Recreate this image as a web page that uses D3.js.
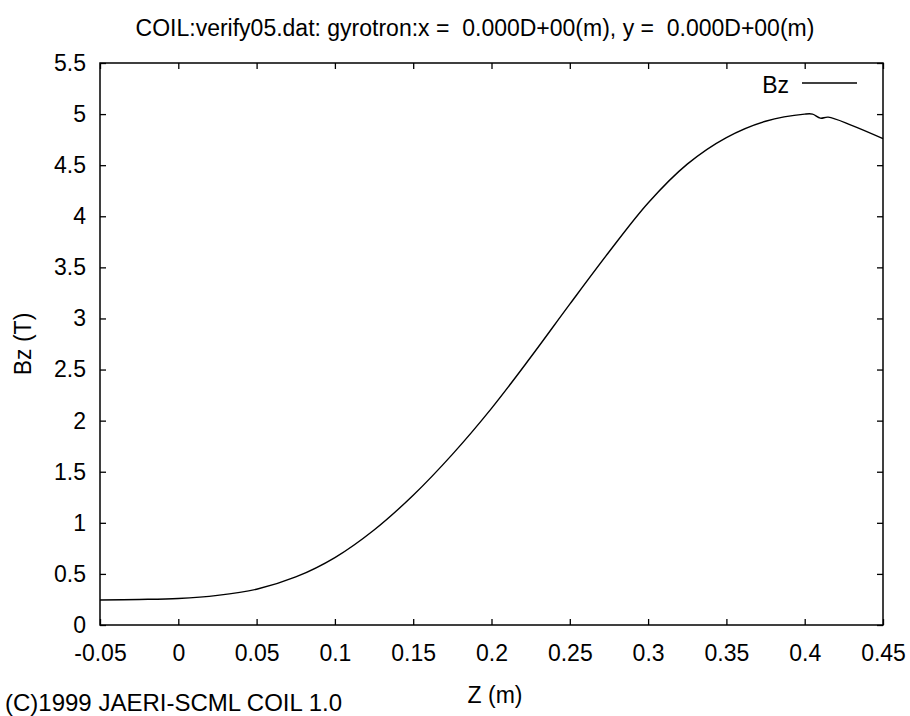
<!DOCTYPE html>
<html>
<head>
<meta charset="utf-8">
<script src="https://cdn.jsdelivr.net/npm/d3@7"></script>
<style>
  body { margin: 0; background: #fff; }
  svg { display: block; }
  text { font-family: "Liberation Sans", Arial, sans-serif; fill: #000; }
</style>
</head>
<body>
<div id="main"></div>
<script>
// data
const zPos = [-0.05, -0.025, 0, 0.025, 0.05, 0.075, 0.1, 0.125, 0.15, 0.175, 0.2, 0.225,
              0.25, 0.275, 0.3, 0.325, 0.35, 0.375, 0.4, 0.405, 0.41, 0.415, 0.43, 0.45];
const bzVals = [0.245, 0.25, 0.26, 0.29, 0.35, 0.47, 0.66, 0.93, 1.27, 1.67, 2.12, 2.62,
                3.14, 3.65, 4.13, 4.51, 4.77, 4.93, 5.0, 5.0, 4.96, 4.97, 4.89, 4.76];

const xTicks = [-0.05, 0, 0.05, 0.1, 0.15, 0.2, 0.25, 0.3, 0.35, 0.4, 0.45];
const yTicks = [0, 0.5, 1, 1.5, 2, 2.5, 3, 3.5, 4, 4.5, 5, 5.5];

const titleText = 'COIL:verify05.dat: gyrotron:x =  0.000D+00(m), y =  0.000D+00(m)';
const seriesName = 'Bz';

// svg
const w = 910;
const h = 716;
const padL = 100, padR = 883, padT = 63, padB = 625;
const fs = 23;

const svg = d3.select('#main')
    .append('svg')
    .attr('width', w)
    .attr('height', h)

const x = d3.scaleLinear().domain([-0.05, 0.45]).range([padL, padR]);
const y = d3.scaleLinear().domain([0, 5.5]).range([padB, padT]);

const fmt = (d) => String(+d.toFixed(2));

// axes (ticks point inward, mirrored on all sides)
const xAxis = d3.axisBottom(x).tickValues(xTicks).tickFormat(fmt)
    .tickSizeInner(-6).tickSizeOuter(0).tickPadding(20);
const yAxis = d3.axisLeft(y).tickValues(yTicks).tickFormat(fmt)
    .tickSizeInner(-6).tickSizeOuter(0).tickPadding(14);

svg.append('g').attr('transform', `translate(0, ${padB})`).call(xAxis);
svg.append('g').attr('transform', `translate(${padL}, 0)`).call(yAxis);
svg.append('g').attr('transform', `translate(0, ${padT})`)
    .call(d3.axisTop(x).tickValues(xTicks).tickFormat('').tickSizeInner(-6).tickSizeOuter(0));
svg.append('g').attr('transform', `translate(${padR}, 0)`)
    .call(d3.axisRight(y).tickValues(yTicks).tickFormat('').tickSizeInner(-6).tickSizeOuter(0));

svg.selectAll('.domain').remove();
svg.selectAll('.tick line').attr('stroke', '#000').attr('stroke-width', 1.3);
svg.selectAll('.tick text').style('font-size', fs + 'px')
    .style('font-family', '"Liberation Sans", Arial, sans-serif');

// frame
svg.append('rect')
    .attr('x', padL)
    .attr('y', padT)
    .attr('width', padR - padL)
    .attr('height', padB - padT)
    .attr('fill', 'none')
    .attr('stroke', '#000')
    .attr('stroke-width', 1.5)

// curve
const pts = zPos.map((z, i) => [z, bzVals[i]]);
const line = d3.line()
    .x(d => x(d[0]))
    .y(d => y(d[1]))
    .curve(d3.curveCatmullRom.alpha(0.5));

svg.append('path')
    .datum(pts)
    .attr('d', line)
    .attr('fill', 'none')
    .attr('stroke', '#000')
    .attr('stroke-width', 1.4)

// legend
svg.append('text')
    .attr('x', 789)
    .attr('y', 93)
    .attr('text-anchor', 'end')
    .style('font-size', fs + 'px')
    .text(seriesName)
svg.append('line')
    .attr('x1', 802).attr('x2', 857)
    .attr('y1', 83).attr('y2', 83)
    .attr('stroke', '#000')
    .attr('stroke-width', 1.3)

// titles
svg.append('text')
    .attr('x', 475)
    .attr('y', 36)
    .attr('text-anchor', 'middle')
    .style('font-size', fs + 'px')
    .style('white-space', 'pre')
    .text(titleText)

svg.append('text')
    .attr('transform', `translate(31, 344) rotate(-90)`)
    .attr('text-anchor', 'middle')
    .style('font-size', fs + 'px')
    .text('Bz (T)')

svg.append('text')
    .attr('x', 495)
    .attr('y', 703)
    .attr('text-anchor', 'middle')
    .style('font-size', fs + 'px')
    .text('Z (m)')

svg.append('text')
    .attr('x', 5)
    .attr('y', 711)
    .style('font-size', '24px')
    .text('(C)1999 JAERI-SCML COIL 1.0')
</script>
</body>
</html>
